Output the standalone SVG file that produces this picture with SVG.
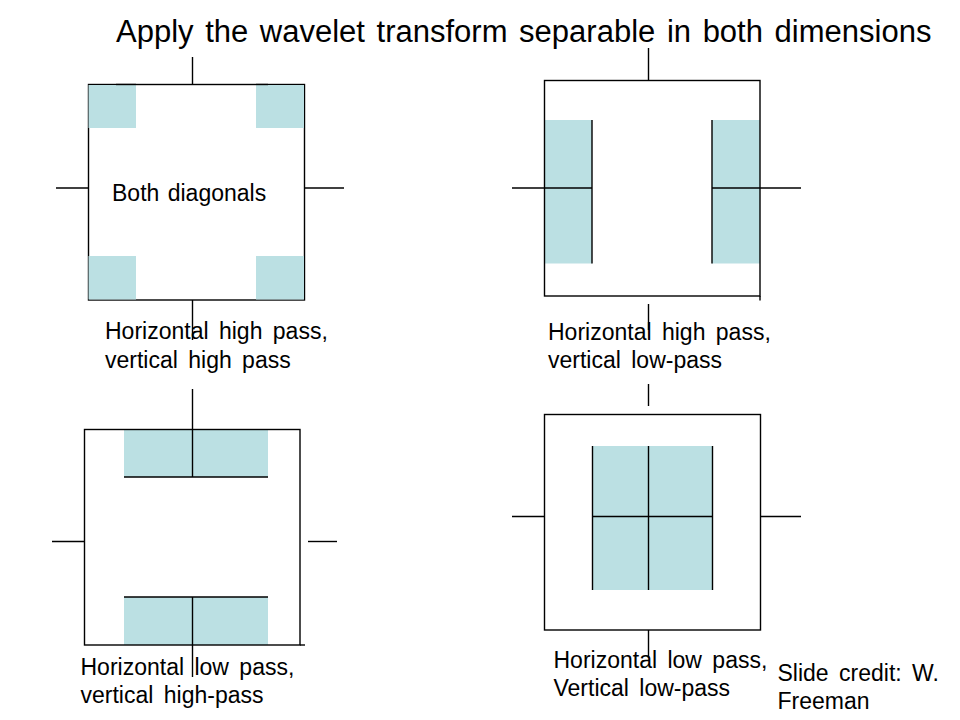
<svg xmlns="http://www.w3.org/2000/svg" width="960" height="720" viewBox="0 0 960 720">
<style>
  text { font-family: "Liberation Sans", Arial, sans-serif; fill: #000; }
  .title { font-size: 31px; word-spacing: 3px; }
  .lbl { font-size: 23px; word-spacing: 4px; }
  .blue { fill: #BBE0E3; stroke: none; }
  .box { fill: none; stroke: #000; stroke-width: 1.4; }
  .ln { stroke: #000; stroke-width: 1.4; fill: none; }
</style>
<rect x="0" y="0" width="960" height="720" fill="#fff"/>
<text class="title" x="116" y="41.5">Apply the wavelet transform separable in both dimensions</text>

<g id="panel-hh">
  <rect class="box" x="88.5" y="84.5" width="216" height="215.5"/>
  <rect class="blue" x="88.5" y="85" width="47.5" height="43"/>
  <rect class="blue" x="256" y="85" width="48" height="43"/>
  <rect class="blue" x="88.5" y="256" width="47.5" height="43.5"/>
  <rect class="blue" x="256" y="256" width="48" height="43.5"/>
  <line class="ln" x1="116" y1="84.5" x2="136" y2="84.5" stroke-width="2"/>
  <line class="ln" x1="256" y1="84.5" x2="268" y2="84.5" stroke-width="2"/>
  <line class="ln" x1="192.5" y1="57" x2="192.5" y2="84.5"/>
  <line class="ln" x1="192.5" y1="300" x2="192.5" y2="340"/>
  <line class="ln" x1="56" y1="188" x2="88.5" y2="188"/>
  <line class="ln" x1="304.5" y1="188" x2="344" y2="188"/>
  <text class="lbl" x="112" y="201" style="word-spacing:2px">Both diagonals</text>
  <text class="lbl" x="105" y="339">Horizontal high pass,</text>
  <text class="lbl" x="105" y="368">vertical high pass</text>
</g>

<g id="panel-hl">
  <rect class="blue" x="544.5" y="120" width="47.5" height="143.5"/>
  <rect class="blue" x="712" y="120" width="48" height="143.5"/>
  <rect class="box" x="544.5" y="80.5" width="215.5" height="215.5"/>
  <line class="ln" x1="760" y1="296" x2="760" y2="300.5"/>
  <line class="ln" x1="592" y1="120" x2="592" y2="263.5"/>
  <line class="ln" x1="712" y1="120" x2="712" y2="263.5"/>
  <line class="ln" x1="512" y1="188" x2="592" y2="188"/>
  <line class="ln" x1="712" y1="188" x2="801" y2="188"/>
  <line class="ln" x1="648.5" y1="48" x2="648.5" y2="80.5"/>
  <line class="ln" x1="648.5" y1="304" x2="648.5" y2="330"/>
  <text class="lbl" x="548" y="339.5">Horizontal high pass,</text>
  <text class="lbl" x="548" y="367.5">vertical low-pass</text>
</g>

<g id="panel-lh">
  <rect class="blue" x="124" y="429.5" width="144" height="47.5"/>
  <rect class="blue" x="124" y="597" width="144" height="48"/>
  <rect class="box" x="84.5" y="429.5" width="215.5" height="215.5"/>
  <line class="ln" x1="300" y1="645" x2="305" y2="645"/>
  <line class="ln" x1="124" y1="477" x2="268" y2="477"/>
  <line class="ln" x1="124" y1="597" x2="268" y2="597"/>
  <line class="ln" x1="192.5" y1="389" x2="192.5" y2="477"/>
  <line class="ln" x1="192.5" y1="597" x2="192.5" y2="677"/>
  <line class="ln" x1="52" y1="541.5" x2="84.5" y2="541.5"/>
  <line class="ln" x1="308" y1="541.5" x2="337" y2="541.5"/>
  <text class="lbl" x="80.5" y="675">Horizontal low pass,</text>
  <text class="lbl" x="80.5" y="703">vertical high-pass</text>
</g>

<g id="panel-ll">
  <rect class="box" x="544.5" y="414.5" width="216" height="215.5"/>
  <rect class="blue" x="592.5" y="446" width="120" height="144"/>
  <line class="ln" x1="592.5" y1="446" x2="592.5" y2="590"/>
  <line class="ln" x1="712.5" y1="446" x2="712.5" y2="590"/>
  <line class="ln" x1="648.5" y1="446" x2="648.5" y2="590"/>
  <line class="ln" x1="592.5" y1="516.5" x2="712.5" y2="516.5"/>
  <line class="ln" x1="648.5" y1="384" x2="648.5" y2="406"/>
  <line class="ln" x1="648.5" y1="630" x2="648.5" y2="658"/>
  <line class="ln" x1="512" y1="516.5" x2="544.5" y2="516.5"/>
  <line class="ln" x1="760.5" y1="516.5" x2="801" y2="516.5"/>
  <text class="lbl" x="553.5" y="667.5">Horizontal low pass,</text>
  <text class="lbl" x="553.5" y="695.5">Vertical low-pass</text>
</g>

<g id="credit">
  <text class="lbl" x="777.5" y="680.5">Slide credit: W.</text>
  <text class="lbl" x="777.5" y="709">Freeman</text>
</g>
</svg>
